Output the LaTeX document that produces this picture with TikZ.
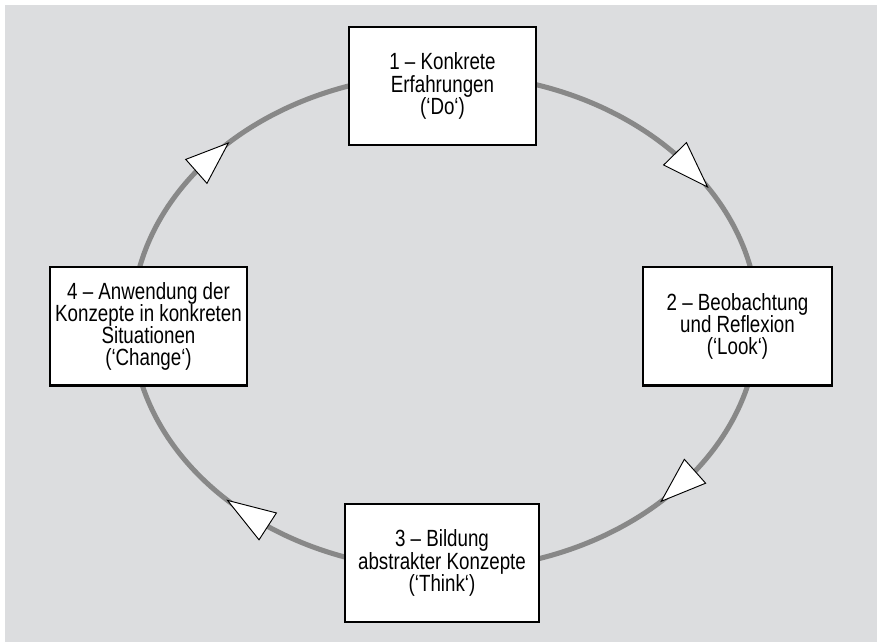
\documentclass[tikz,border=0pt]{standalone}
\usepackage{fontspec}
\setmainfont{Liberation Sans}[FakeStretch=0.8]
\usepackage{tikz}
\usetikzlibrary{calc,positioning}
\definecolor{panelgray}{RGB}{220,221,223}
\definecolor{ringgray}{RGB}{136,136,136}
\tikzstyle{stage} = [draw, rectangle, fill=white, line width=2pt, align=center,
    inner sep=0pt, minimum height=3.55cm, font=\fontsize{20}{19}\selectfont]
\tikzstyle{ringarrow} = [fill=white, draw=black, line width=0.8pt, line join=miter]
% open arrowhead on the ring: tip angle, base angle
\newcommand{\ringtip}[2]{%
  \coordinate (tip) at ($(ctr)+(#1:9.39cm and 7.44cm)$);
  \coordinate (base) at ($(ctr)+(#2:9.39cm and 7.44cm)$);
  \filldraw[ringarrow] (tip) -- ($(base)!0.48cm!90:(tip)$)
    -- ($(base)!0.48cm!-90:(tip)$) -- cycle;}

\begin{document}
\begin{tikzpicture}[x=0.03cm, y=0.03cm]
  \useasboundingbox (0,0) rectangle (877,642);
  \fill[panelgray] (5,0) rectangle (877,637);
  \coordinate (ctr) at (445,320);
  % Ring
  \draw[ringgray, line width=4.3pt] (ctr) ellipse [x radius=9.39cm, y radius=7.44cm];
  \ringtip{33}{42.7}
  \ringtip{-46.3}{-37}
  \ringtip{-134}{-124.5}
  \ringtip{133.8}{142.6}
  % Place nodes
  \node [stage, minimum width=5.61cm] (do) at (442.5,556)
    {1 – Konkrete\\Erfahrungen\\(‘Do‘)};
  \node [stage, minimum width=5.67cm] (look) at (737.5,315.5)
    {2 – Beobachtung\\und Reflexion\\(‘Look‘)};
  \node [stage, minimum width=5.82cm] (think) at (442,79)
    {3 – Bildung\\abstrakter Konzepte\\(‘Think‘)};
  \node [stage, minimum width=5.91cm] (change) at (148.5,315.5)
    {4 – Anwendung der\\Konzepte in konkreten\\Situationen\\(‘Change‘)};
\end{tikzpicture}
\end{document}
